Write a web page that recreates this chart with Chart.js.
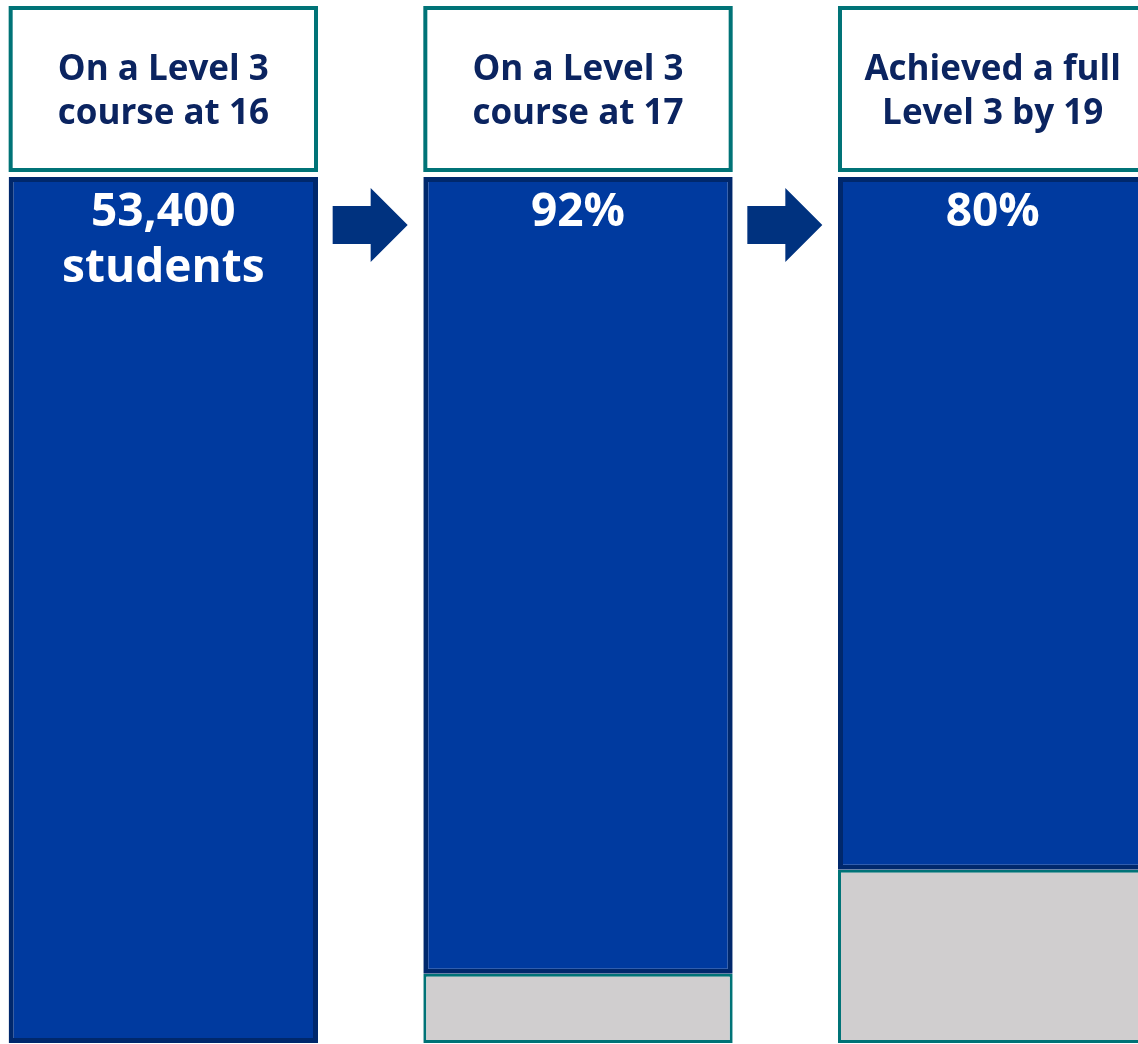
<!DOCTYPE html>
<html>
<head>
<meta charset="utf-8">
<script src="https://cdn.jsdelivr.net/npm/chart.js@4.4.1/dist/chart.umd.min.js"></script>
<style>
  html,body{margin:0;padding:0;background:#fff;overflow:hidden;}
  #wrap{position:relative;width:1138px;height:1044px;overflow:hidden;}
  #flow{position:absolute;left:-44px;top:0;}
</style>
</head>
<body>
<div id="wrap"><canvas id="flow" width="1244" height="1046"></canvas></div>
<script>
// data
const stages = [["On a Level 3","course at 16"],["On a Level 3","course at 17"],["Achieved a full","Level 3 by 19"]];
const onTrack = [100, 92, 80];
const dropped = [0, 8, 20];
const barText = [["53,400","students"],["92%"],["80%"]];

const BLUE = "#003a9f", NAVY = "#00286c", TEAL = "#007377", GREY = "#d0cecf", INK = "#0b2460";
const FONT = "'Open Sans', 'Noto Sans', sans-serif";

document.addEventListener("DOMContentLoaded", () => {

  // header boxes, arrows and labels on top of the bars
  const extras = {
    id:"extras",
    afterDraw(chart){
      const c = chart.ctx;
      const meta = chart.getDatasetMeta(0);
      const top = chart.chartArea.top;
      c.save();
      meta.data.forEach((bar,i)=>{
        const w = bar.width, x0 = bar.x - w/2;
        // header box
        c.fillStyle = "#fff";
        c.strokeStyle = TEAL;
        c.lineWidth = 4;
        c.fillRect(x0, 6, w, 166);
        c.strokeRect(x0+2, 8, w-4, 162);
        c.fillStyle = INK;
        c.font = "bold 35px " + FONT;
        c.textAlign = "center";
        c.textBaseline = "middle";
        stages[i].forEach((t,k)=>c.fillText(t, bar.x, 70 + k*44));
        // value text in the bar
        c.fillStyle = "#fff";
        c.font = "bold 46px " + FONT;
        barText[i].forEach((t,k)=>c.fillText(t, bar.x, top + 36 + k*56));
        // arrow to the next bar
        const nxt = meta.data[i+1];
        if(nxt){
          const mid = ((bar.x + w/2) + (nxt.x - nxt.width/2))/2;
          const ay = top + 48;
          c.fillStyle = "#00327f";
          c.beginPath();
          c.moveTo(mid-38, ay-19);
          c.lineTo(mid, ay-19);
          c.lineTo(mid, ay-37);
          c.lineTo(mid+37, ay);
          c.lineTo(mid, ay+37);
          c.lineTo(mid, ay+19);
          c.lineTo(mid-38, ay+19);
          c.closePath();
          c.fill();
        }
      });
      c.restore();
    }
  };

  new Chart(document.getElementById("flow"), {
    type:"bar",
    data:{
      labels: stages.map(s=>s.join(" ")),
      datasets:[
        {label:"On track", data:onTrack, backgroundColor:BLUE, borderColor:NAVY, borderWidth:5, borderSkipped:false},
        {label:"Not", data:dropped, backgroundColor:GREY, borderColor:TEAL, borderWidth:ctx=>ctx.raw ? 3 : 0, borderSkipped:false}
      ]
    },
    options:{
      responsive:false,
      animation:false,
      devicePixelRatio:1,
      layout:{padding:{top:177, bottom:3}},
      categoryPercentage:1,
      barPercentage:0.746,
      plugins:{legend:{display:false}, tooltip:{enabled:false}},
      scales:{
        x:{display:false, stacked:true},
        y:{display:false, stacked:true, min:0, max:100, reverse:true}
      }
    },
    plugins:[extras]
  });

});
</script>
</body>
</html>
